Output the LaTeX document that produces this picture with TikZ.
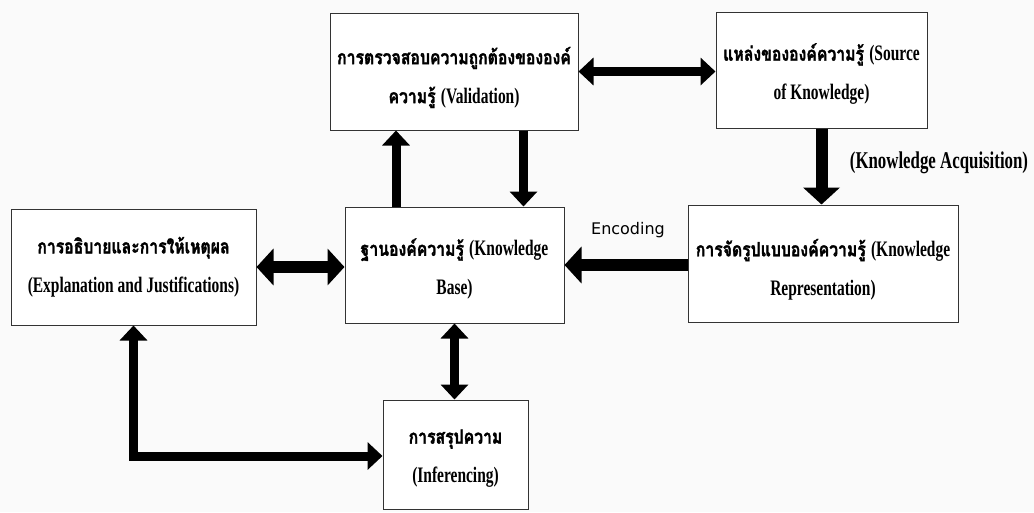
\documentclass[tikz,border=0pt]{standalone}
\usepackage{fontspec}
\usetikzlibrary{arrows.meta}
\newfontfamily\thf[Script=Thai,FakeStretch=0.8,FakeBold=1.6,Scale=1.16]{Loma}
\newfontfamily\latf[FakeStretch=0.7,Scale=1.3]{Liberation Serif}
\newfontfamily\sanf{DejaVu Sans}
\begin{document}
\begin{tikzpicture}[x=1pt,y=-1pt,
  box/.style={draw=black!80,line width=1pt,fill=white,inner sep=0pt},
  txt/.style={inner sep=0pt,align=center,font=\fontsize{17}{39}\selectfont\bfseries},
  thk/.style={line width=12pt},
  med/.style={line width=9pt},
  tipbig/.tip={Triangle[length=17pt,width=36pt]},
  tipmed/.tip={Triangle[length=15pt,width=27pt]},
  lbl/.style={inner sep=0pt}]
\useasboundingbox[fill=black!2] (0,0) rectangle (1034,512);
% boxes
\node[box,minimum width=248pt,minimum height=117pt] (val) at (454,71.5) {};
\node[box,minimum width=211pt,minimum height=116pt] (src) at (821.5,70) {};
\node[box,minimum width=245pt,minimum height=116pt] (expl) at (133.5,267) {};
\node[box,minimum width=219pt,minimum height=116pt] (kb) at (454.5,265) {};
\node[box,minimum width=270pt,minimum height=117pt] (rep) at (823,263.5) {};
\node[box,minimum width=145pt,minimum height=109pt] (inf) at (455.5,454.5) {};
% box texts (yshift is in page units: negative moves down)
\node[txt] (valt) at ([yshift=-6pt]val.center)
  {\thf การตรวจสอบความถูกต้องขององค์\\\thf ความรู้ \latf(Validation)};
\node[txt] (srct) at ([yshift=-4pt]src.center)
  {\thf แหล่งขององค์ความรู้ \latf(Source\\\latf of Knowledge)};
\node[txt] (explt) at (expl.center)
  {\thf การอธิบายและการให้เหตุผล\\\latf(Explanation and Justifications)};
\node[txt] (kbt) at ([yshift=-4pt]kb.center)
  {\thf ฐานองค์ความรู้ \latf(Knowledge\\\latf Base)};
\node[txt] (rept) at ([yshift=-6pt]rep.center)
  {\thf การจัดรูปแบบองค์ความรู้ \latf(Knowledge\\\latf Representation)};
\node[txt] (inft) at ([yshift=-4pt]inf.center)
  {\thf การสรุปความ\\\latf(Inferencing)};
% labels
\node[lbl,font=\fontsize{18.5}{20}\selectfont\bfseries\latf] (acq) at (939,163) {(Knowledge Acquisition)};
\node[lbl,font=\fontsize{16}{20}\selectfont\sanf] (enc) at (628,230) {Encoding};
% connectors
\draw[med,tipmed-tipmed] (val.east) -- (val.east -| src.west);
\draw[med,-tipmed] ([xshift=-58.5pt]kb.north) -- ([xshift=-58.5pt]kb.north |- val.south);
\draw[med,-tipmed] ([xshift=69.5pt]val.south) -- ([xshift=69.5pt]val.south |- kb.north);
\draw[thk,-tipbig] (src.south) -- (src.south |- rep.north);
\draw[thk,-tipbig] ([yshift=-1.5pt]rep.west) -- ([yshift=-1.5pt]rep.west -| kb.east);
\draw[thk,tipbig-tipbig] (expl.east) -- (expl.east -| kb.west);
\draw[med,tipmed-tipmed] (kb.south) -- (kb.south |- inf.north);
\draw[med,tipmed-tipmed,line join=miter] (expl.south) |- ([yshift=-1.5pt]inf.west);
\end{tikzpicture}
\end{document}
